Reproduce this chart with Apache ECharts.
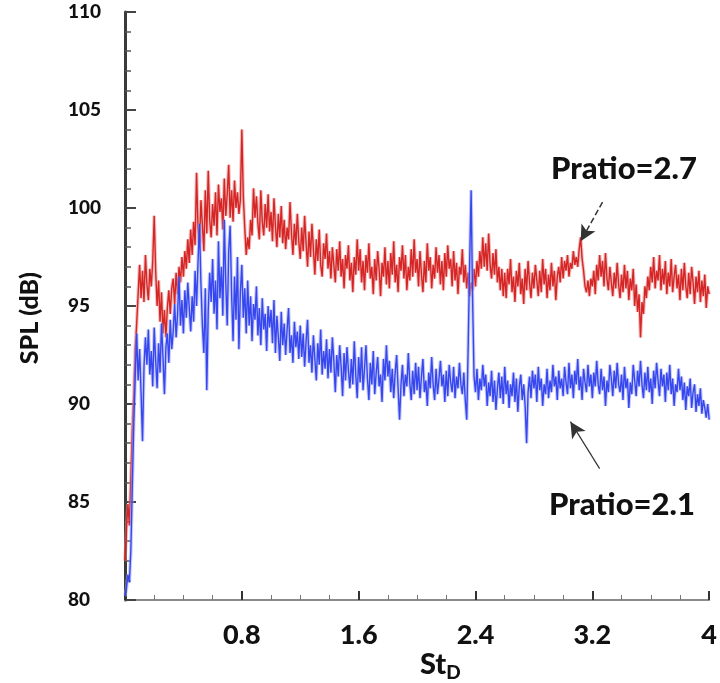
<!DOCTYPE html>
<html>
<head>
<meta charset="utf-8">
<script src="https://cdn.jsdelivr.net/npm/echarts@6/dist/echarts.min.js"></script>
<style>html,body{margin:0;padding:0;background:#fff;}#c{width:720px;height:683px;}</style>
</head>
<body>
<div id="c"></div>
<script>
// Strouhal number bins are uniformly spaced from 0 to 4
const stStep = 0.01;
const xTicks = [0.8, 1.6, 2.4, 3.2, 4];
const yTicks = [80, 85, 90, 95, 100, 105, 110];

// SPL (dB) for Pratio = 2.7 (one row = 0.2 in St_D)
const splPratio27 = [
  82.0, 83.6, 84.9, 83.8, 86.2, 88.7, 90.4, 92.8, 94.1, 95.6, 97.1, 95.4, 96.8, 95.2, 97.6, 96.1, 95.3, 96.9, 96.0, 97.3,
  99.6, 96.8, 95.0, 96.3, 94.2, 95.7, 93.6, 94.8, 93.4, 94.9, 95.8, 94.6, 95.9, 96.4, 95.1, 96.7, 95.6, 97.0, 96.2, 97.5,
  96.5, 97.8, 96.9, 98.4, 97.2, 98.9, 97.6, 99.3, 98.1, 101.8, 99.0, 98.2, 100.4, 99.1, 97.8, 100.9, 98.7, 101.9, 99.4, 98.5,
  100.2, 99.1, 100.8, 98.6, 101.2, 99.8, 100.5, 98.9, 101.5, 99.6, 100.7, 102.2, 99.5, 100.9, 99.3, 101.4, 100.0, 100.8, 99.7, 100.4,
  104.0, 100.6, 99.0, 97.6, 98.5, 97.9, 99.4, 98.6, 101.0, 99.5, 100.6, 99.2, 98.4, 100.9, 99.3, 98.6, 100.2, 99.0, 100.7, 98.8,
  99.8, 98.3, 100.5, 99.1, 98.0, 99.7, 98.5, 100.1, 98.2, 99.4, 97.9, 99.0, 98.4, 100.3, 98.7, 97.6, 99.2, 98.1, 99.7, 98.3,
  97.4, 99.0, 97.8, 99.6, 98.2, 97.0, 98.8, 97.5, 99.2, 97.9, 96.6, 98.4, 97.3, 98.9, 97.1, 96.5, 98.2, 97.4, 98.7, 96.9,
  97.8, 96.4, 98.0, 97.1, 96.2, 97.9, 96.8, 98.3, 96.5, 97.4, 95.9, 97.6, 96.9, 98.1, 96.3, 97.2, 95.7, 97.5, 96.6, 98.4,
  96.8, 97.9, 96.2, 97.3, 95.8, 97.6, 96.7, 98.2, 96.4, 97.0, 95.6, 97.4, 96.3, 97.8, 96.9, 95.5, 97.2, 96.5, 98.0, 96.1,
  97.3, 95.9, 97.7, 96.6, 98.3, 96.2, 97.1, 95.7, 97.5, 96.8, 98.1, 96.4, 97.6, 95.8, 97.0, 96.3, 97.9, 96.5, 98.4, 96.7,
  97.4, 96.0, 97.8, 96.6, 95.7, 97.3, 96.2, 98.2, 96.8, 97.5, 95.9, 97.1, 96.4, 98.0, 96.7, 97.6, 96.1, 97.3, 95.8, 97.7,
  96.5, 98.1, 96.9, 97.4, 96.0, 97.8, 96.3, 97.2, 95.6, 97.0, 96.6, 97.9, 96.2, 97.1, 95.9, 96.7, 95.5, 96.2, 95.8, 96.9,
  96.0, 97.3, 96.5, 97.8, 96.9, 98.5, 97.0, 98.2, 96.8, 98.7, 97.1, 96.4, 97.7, 96.6, 97.9, 96.2, 97.0, 95.8, 96.9, 95.5,
  96.7, 95.4, 96.9, 96.1, 97.4, 95.7, 96.5, 95.2, 96.8, 96.0, 97.2, 95.6, 96.4, 95.1, 96.9, 95.8, 97.3, 96.2, 95.4, 96.7,
  95.9, 97.1, 96.3, 95.5, 96.8, 95.7, 97.4, 96.1, 96.9, 95.4, 96.6, 95.8, 97.2, 96.0, 96.8, 95.3, 96.5, 97.0, 96.2, 97.5,
  96.4, 97.3, 96.8, 97.6, 96.5, 97.2, 96.9, 97.8, 97.1, 97.5, 97.0, 97.9, 98.5, 97.4, 96.8, 96.0, 95.7, 96.3, 95.5, 96.4,
  96.0, 96.8, 95.6, 97.1, 96.3, 97.6, 96.5, 97.3, 96.0, 97.7, 96.4, 95.8, 97.0, 96.2, 95.5, 96.7, 95.9, 97.2, 96.1, 95.4,
  96.6, 95.7, 97.1, 95.9, 96.8, 95.3, 96.4, 95.8, 96.9, 95.0, 96.1, 94.7, 95.6, 93.4, 95.2, 94.6, 96.0, 95.4, 96.5, 95.8,
  97.0, 96.2, 97.5, 95.9, 96.8, 96.3, 97.6, 95.8, 96.9, 96.1, 97.3, 95.6, 96.7, 96.0, 97.4, 95.7, 96.5, 97.1, 95.9, 96.6,
  95.3, 96.9, 95.8, 97.2, 96.0, 95.4, 96.7, 95.6, 97.0, 96.2, 95.1, 96.5, 95.7, 96.8, 95.2, 96.3, 95.5, 96.6, 94.9, 96.0,
  95.6
];

// SPL (dB) for Pratio = 2.1 (one row = 0.2 in St_D)
const splPratio21 = [
  80.2, 80.6, 81.3, 80.9, 82.5, 85.8, 89.0, 91.4, 93.6, 91.2, 92.8, 90.6, 88.1, 91.9, 93.4, 92.0, 93.8, 91.5, 92.7, 90.9,
  93.9, 92.2, 90.8, 93.1, 91.6, 94.1, 92.4, 90.5, 92.9, 93.6, 92.1, 94.3, 92.8, 93.7, 95.1, 93.4, 94.6, 96.5, 94.0, 95.3,
  93.6, 95.8, 94.4, 96.2, 94.9, 93.7, 95.5, 94.2, 96.8, 95.0, 97.2, 99.2, 96.1, 94.0, 92.6, 95.9, 90.7, 94.8, 96.7, 95.2,
  97.4, 94.6, 96.3, 93.8, 98.3, 95.4, 97.0, 94.5, 99.4, 96.2, 94.0, 97.8, 99.1, 95.6, 93.2, 96.5, 94.3, 97.5, 92.8, 95.7,
  97.1, 94.4, 95.9, 93.6, 96.3, 94.0, 95.5, 93.2, 95.1, 94.3, 96.0, 93.5, 94.9, 93.0, 95.4, 93.8, 94.6, 92.7, 95.0, 93.9,
  94.8, 93.1, 95.3, 92.6, 94.5, 93.4, 92.2, 94.7, 93.0, 94.1, 92.5, 93.8, 94.9, 92.6, 93.5, 92.1, 94.2, 92.9, 93.7, 92.3,
  94.0, 92.4, 93.6, 91.9, 93.2, 94.3, 92.1, 93.0, 91.6, 93.5, 92.3, 91.2, 93.1, 92.0, 93.8, 91.5, 92.7, 91.8, 93.3, 91.3,
  92.8, 91.6, 93.4, 92.2, 90.6, 92.5, 91.4, 93.0, 91.9, 90.4, 92.6, 91.2, 92.9, 91.7, 90.8, 92.3, 91.0, 93.2, 91.5, 90.3,
  92.4, 91.1, 92.9, 90.7, 91.8, 93.0, 91.3, 90.2, 92.1, 91.0, 92.7, 90.5, 91.6, 92.4, 90.9, 91.5, 90.1, 92.3, 91.2, 93.0,
  91.4, 92.2, 90.6, 91.8, 90.3, 91.6, 92.5, 90.8, 89.2, 91.0, 92.0, 90.4, 91.5, 90.9, 92.6, 91.1, 90.2, 91.7, 90.5, 92.1,
  90.7, 91.9, 90.3, 91.4, 92.3, 90.6, 91.2, 89.9, 91.6, 90.8, 92.4, 91.0, 90.2, 91.8, 90.5, 91.3, 92.2, 90.9, 91.5, 90.1,
  91.7, 90.4, 92.0, 91.1, 90.6, 91.9, 90.3, 91.4, 90.8, 92.1, 91.0, 90.5, 91.6, 90.2, 89.2, 93.0, 97.2, 100.9, 95.4, 91.4,
  90.6, 91.8, 90.2, 91.3, 90.7, 92.0, 90.9, 91.5, 89.9, 91.1, 90.4, 91.7, 90.1, 91.2, 89.7, 90.8, 91.6, 90.3, 91.4, 90.0,
  91.9, 90.5, 91.2, 89.8, 91.0, 90.4, 91.6, 90.1, 91.3, 89.6, 90.9, 91.5, 90.2, 91.0, 89.9, 88.0, 90.6, 91.4, 90.3, 91.7,
  90.8, 91.5, 90.1, 91.9, 90.7, 91.3, 89.9, 91.0, 90.5, 91.8, 90.3, 91.2, 90.6, 92.0, 90.9, 91.4, 90.2, 91.7, 90.8, 91.3,
  90.4, 91.9, 91.1, 90.5, 92.1, 90.8, 91.5, 90.3, 91.7, 91.0, 92.3, 90.7, 91.4, 90.2, 91.8, 91.1, 90.6, 92.0, 90.9, 91.5,
  90.3, 91.6, 90.9, 92.2, 91.0, 90.5, 91.8, 90.7, 91.4, 89.9, 91.2, 90.6, 92.0, 91.3, 90.4, 91.7, 90.8, 92.1, 91.0, 90.6,
  91.5, 90.2, 91.9, 90.8, 91.3, 89.8, 91.1, 90.5, 92.0, 91.2, 90.4, 91.7, 90.9, 92.2, 91.0, 90.3, 91.6, 90.7, 91.9, 90.6,
  91.3, 90.0, 91.7, 90.8, 92.1, 91.2, 90.4, 91.8, 90.9, 91.5, 90.1, 91.6, 90.7, 92.0, 90.5, 91.3, 89.9, 91.0, 90.6, 91.8,
  90.7, 91.4, 90.2, 91.1, 89.7, 90.9, 90.4, 91.3, 89.8, 90.6, 91.0, 89.6, 90.5, 89.9, 90.8, 89.5, 90.2, 89.8, 89.3, 90.0,
  89.2
];

const seriesNames = ['Pratio=2.7', 'Pratio=2.1'];

function toPairs(vals) {
  return vals.map((v, i) => [+(i * stStep).toFixed(2), v]);
}

const chart = echarts.init(document.getElementById('c'), null, {renderer: 'canvas'});
const F = 'Lato, "Open Sans", "DejaVu Sans", sans-serif';
const W = 900;

function lineSeries(name, vals, color, width, opacity, z, extra) {
  return Object.assign({
    name: name, type: 'line', showSymbol: false, symbol: 'none',
    data: toPairs(vals), silent: true,
    lineStyle: {color: color, width: width, opacity: opacity},
    z: z
  }, extra || {});
}

chart.setOption({
  animation: false,
  backgroundColor: '#ffffff',
  grid: {left: 125, right: 5, top: 12, bottom: 83, containLabel: false},
  xAxis: {
    type: 'value', min: 0, max: 4, interval: 0.8,
    axisLine: {show: true, lineStyle: {color: '#8a8a8a', width: 2}},
    axisTick: {show: true, inside: true, length: 9, lineStyle: {color: '#333', width: 2}},
    minorTick: {show: true, splitNumber: 4, length: 5, lineStyle: {color: '#777', width: 1}},
    splitLine: {show: false},
    axisLabel: {
      fontFamily: F, fontWeight: W, fontSize: 27, color: '#111', margin: 22,
      formatter: v => xTicks.some(t => Math.abs(t - v) < 1e-6) ? String(+v.toFixed(1)) : ''
    }
  },
  yAxis: {
    type: 'value', min: 80, max: 110, interval: 5,
    axisLine: {show: true, lineStyle: {color: '#3a3a3a', width: 3}},
    axisTick: {show: true, inside: true, length: 11, lineStyle: {color: '#444', width: 2}},
    minorTick: {show: true, splitNumber: 5, length: 6, lineStyle: {color: '#555', width: 1.5}},
    splitLine: {show: false},
    axisLabel: {
      fontFamily: F, fontWeight: W, fontSize: 19, color: '#111', margin: 57, align: 'left',
      padding: [6, 0, 0, 0],
      formatter: v => yTicks.includes(v) ? String(v) : ''
    }
  },
  graphic: [
    {type: 'text', left: 17, top: 272, rotation: Math.PI / 2,
     style: {text: 'SPL (dB)', fontFamily: F, fontWeight: W, fontSize: 25, fill: '#111'}},
    {type: 'text', left: 420, top: 650,
     style: {text: '{a|St}{b|D}', fill: '#111',
       rich: {
         a: {fontFamily: F, fontWeight: W, fontSize: 29, fill: '#111'},
         b: {fontFamily: F, fontWeight: W, fontSize: 19, fill: '#111', padding: [16, 0, 0, 0]}
       }}},
    {type: 'text', left: 551, top: 153,
     style: {text: seriesNames[0], fontFamily: F, fontWeight: W, fontSize: 31, fill: '#111'}},
    {type: 'text', left: 549, top: 489,
     style: {text: seriesNames[1], fontFamily: F, fontWeight: W, fontSize: 31, fill: '#111'}}
  ],
  series: [
    lineSeries(seriesNames[0] + ' halo', splPratio27, '#e88a8a', 3.5, 0.55, 1),
    lineSeries(seriesNames[0], splPratio27, '#d41c1c', 1.4, 0.95, 2, {
      markLine: {
        silent: true, symbol: ['none', 'arrow'], symbolSize: [12, 16],
        label: {show: false},
        lineStyle: {color: '#333', type: 'dashed', width: 1.5},
        data: [[{coord: [3.27, 100.3]}, {coord: [3.12, 98.3]}]]
      }
    }),
    lineSeries(seriesNames[1] + ' halo', splPratio21, '#9aa2f2', 3.5, 0.55, 3),
    lineSeries(seriesNames[1], splPratio21, '#2e3fee', 1.4, 0.95, 4, {
      markLine: {
        silent: true, symbol: ['none', 'arrow'], symbolSize: [12, 16],
        label: {show: false},
        lineStyle: {color: '#333', type: 'solid', width: 1.2},
        data: [[{coord: [3.25, 86.7]}, {coord: [3.05, 89.1]}]]
      }
    })
  ]
});
</script>
</body>
</html>
